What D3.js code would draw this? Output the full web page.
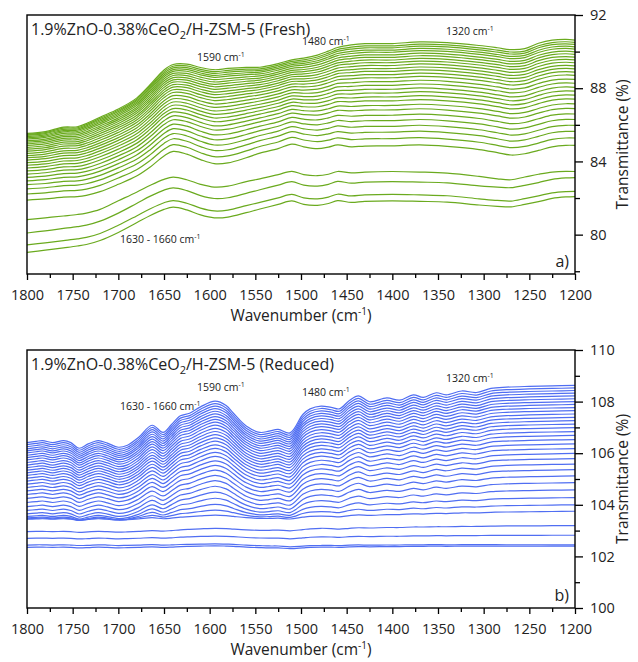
<!DOCTYPE html>
<html>
<head>
<meta charset="utf-8">
<script src="https://cdn.jsdelivr.net/npm/d3@7"></script>
<style>
  body { margin: 0; background: #fff; }
  svg { font-family: "Open Sans", "Noto Sans", sans-serif; }
</style>
</head>
<body>
<script>
// ---- data ----
const xMajorTicks = [1800, 1750, 1700, 1650, 1600, 1550, 1500, 1450, 1400, 1350, 1300, 1250, 1200];
const freshYTicks = [80, 84, 88, 92];
const reducedYTicks = [100, 102, 104, 106, 108, 110];

// panel a) Fresh : reference spectra (top / bottom of each stack)
const freshWavenumber = [1800, 1780, 1760, 1745, 1735, 1720, 1700, 1680, 1665, 1650, 1640, 1625, 1610, 1595, 1580, 1560, 1545, 1525, 1510, 1497, 1482, 1470, 1460, 1445, 1430, 1400, 1370, 1340, 1305, 1285, 1270, 1255, 1240, 1225, 1210, 1200];
const freshUpperTop = [85.45, 85.55, 85.80, 85.82, 86.00, 86.35, 86.80, 87.40, 88.15, 88.95, 89.25, 89.28, 89.10, 88.98, 89.05, 89.10, 89.10, 89.30, 89.50, 89.60, 89.78, 90.00, 90.20, 90.35, 90.42, 90.42, 90.52, 90.48, 90.32, 90.20, 90.10, 90.15, 90.45, 90.62, 90.66, 90.62];
const freshUpperBottom = [81.89, 81.95, 82.05, 82.08, 82.15, 82.35, 82.75, 83.20, 83.70, 84.30, 84.55, 84.40, 84.10, 83.88, 83.92, 84.20, 84.45, 84.70, 84.95, 84.80, 84.70, 84.78, 84.90, 84.80, 84.84, 84.85, 84.90, 84.82, 84.65, 84.48, 84.35, 84.42, 84.60, 84.80, 84.88, 84.88];
const freshLowerTop = [80.82, 80.92, 81.02, 81.10, 81.18, 81.38, 81.85, 82.32, 82.70, 83.02, 83.14, 83.00, 82.75, 82.60, 82.65, 82.90, 83.05, 83.28, 83.46, 83.28, 83.22, 83.30, 83.45, 83.37, 83.42, 83.45, 83.42, 83.36, 83.18, 83.05, 83.00, 83.15, 83.30, 83.42, 83.46, 83.45];
const freshLowerBottom = [79.03, 79.15, 79.28, 79.38, 79.46, 79.68, 80.12, 80.65, 81.05, 81.38, 81.50, 81.35, 81.08, 80.92, 80.96, 81.20, 81.40, 81.65, 81.84, 81.65, 81.60, 81.70, 81.86, 81.76, 81.82, 81.85, 81.82, 81.78, 81.62, 81.55, 81.52, 81.65, 81.80, 81.98, 82.06, 82.08];
// every spectrum: value at 1800 and at 1200 cm-1
const freshUpperAt1800 = [85.53, 85.48, 85.42, 85.36, 85.29, 85.22, 85.13, 85.05, 84.96, 84.87, 84.77, 84.67, 84.56, 84.44, 84.32, 84.20, 84.07, 83.93, 83.79, 83.64, 83.48, 83.31, 83.13, 82.94, 82.73, 82.50, 82.22, 81.89];
const freshUpperAt1200 = [90.63, 90.50, 90.39, 90.26, 90.14, 89.99, 89.85, 89.70, 89.55, 89.39, 89.22, 89.06, 88.88, 88.70, 88.48, 88.27, 88.05, 87.84, 87.62, 87.40, 87.14, 86.89, 86.59, 86.29, 85.97, 85.64, 85.28, 84.88];
const freshLowerAt1800 = [80.82, 80.09, 79.44, 79.03];
const freshLowerAt1200 = [83.45, 83.12, 82.36, 82.08];

// panel b) Reduced
const reducedWavenumber = [1800, 1790, 1783, 1772, 1760, 1752, 1743, 1733, 1722, 1712, 1700, 1690, 1678, 1663, 1651, 1642, 1632, 1622, 1610, 1594, 1582, 1574, 1560, 1545, 1535, 1525, 1512, 1498, 1490, 1478, 1467, 1458, 1447, 1437, 1425, 1406, 1392, 1377, 1366, 1352, 1341, 1324, 1308, 1292, 1275, 1250, 1225, 1200];
const reducedUpperTop = [106.40, 106.45, 106.48, 106.40, 106.48, 106.40, 106.18, 106.35, 106.48, 106.38, 106.22, 106.30, 106.60, 107.08, 106.80, 107.10, 107.45, 107.55, 107.80, 108.02, 107.85, 107.55, 107.05, 106.80, 106.85, 106.92, 106.78, 107.50, 107.72, 107.83, 107.78, 107.72, 108.05, 108.23, 108.00, 108.15, 108.06, 108.27, 108.17, 108.35, 108.27, 108.42, 108.36, 108.52, 108.57, 108.60, 108.62, 108.64];
const reducedUpperBottom = [103.44, 103.45, 103.46, 103.44, 103.46, 103.44, 103.40, 103.43, 103.46, 103.44, 103.41, 103.42, 103.45, 103.50, 103.46, 103.48, 103.52, 103.54, 103.57, 103.60, 103.58, 103.55, 103.50, 103.47, 103.47, 103.48, 103.45, 103.52, 103.55, 103.56, 103.55, 103.53, 103.58, 103.61, 103.59, 103.62, 103.62, 103.65, 103.64, 103.67, 103.66, 103.69, 103.69, 103.71, 103.72, 103.73, 103.74, 103.75];
const reducedLowerTop = [102.96, 102.97, 102.97, 102.96, 102.97, 102.96, 102.93, 102.95, 102.97, 102.96, 102.94, 102.95, 102.97, 103.00, 102.98, 103.00, 103.03, 103.05, 103.07, 103.09, 103.08, 103.06, 103.03, 103.01, 103.01, 103.02, 102.99, 103.04, 103.07, 103.09, 103.08, 103.06, 103.09, 103.11, 103.10, 103.12, 103.12, 103.14, 103.14, 103.15, 103.15, 103.16, 103.16, 103.17, 103.18, 103.18, 103.19, 103.19];
const reducedLowerBottom = [102.35, 102.36, 102.36, 102.35, 102.36, 102.35, 102.33, 102.34, 102.36, 102.35, 102.33, 102.34, 102.35, 102.37, 102.35, 102.36, 102.38, 102.39, 102.40, 102.41, 102.40, 102.39, 102.36, 102.34, 102.33, 102.33, 102.30, 102.33, 102.35, 102.36, 102.36, 102.35, 102.37, 102.38, 102.37, 102.38, 102.38, 102.39, 102.39, 102.40, 102.39, 102.40, 102.40, 102.40, 102.40, 102.40, 102.40, 102.40];
const reducedUpperAt1800 = [106.41, 106.33, 106.25, 106.17, 106.09, 106.01, 105.92, 105.83, 105.74, 105.64, 105.54, 105.44, 105.34, 105.24, 105.14, 105.03, 104.92, 104.80, 104.67, 104.54, 104.40, 104.25, 104.09, 103.93, 103.78, 103.65, 103.55, 103.49, 103.46, 103.44];
const reducedUpperAt1200 = [108.63, 108.53, 108.43, 108.33, 108.22, 108.11, 108.00, 107.89, 107.77, 107.65, 107.52, 107.39, 107.26, 107.13, 106.99, 106.84, 106.69, 106.53, 106.36, 106.18, 105.99, 105.79, 105.58, 105.36, 105.12, 104.86, 104.58, 104.28, 104.00, 103.75];
const reducedLowerAt1800 = [102.96, 102.70, 102.44, 102.35];
const reducedLowerAt1200 = [103.19, 102.82, 102.45, 102.40];

const width = 638;
const height = 662;

const svg = d3.select('body').append('svg')
  .attr('width', width)
  .attr('height', height);

// a spectrum of the stack: its own end values, shape taken between the two reference spectra
function spectrum(refTop, refBot, at1800, at1200) {
  const n = refTop.length;
  const riseTop = refTop[n - 1] - refTop[0];
  const riseBot = refBot[n - 1] - refBot[0];
  const t = riseTop === riseBot ? 0 : (riseTop - (at1200 - at1800)) / (riseTop - riseBot);
  return refTop.map((v, k) => at1800 + (1 - t) * (v - refTop[0]) + t * (refBot[k] - refBot[0]));
}

function drawPanel(opt) {
  const x = d3.scaleLinear().domain([1800, 1200]).range([27, 575]);
  const y = d3.scaleLinear().domain(opt.yDomain).range([opt.bottom, opt.top]);
  const g = svg.append('g');

  const clipId = 'clip' + opt.name;
  g.append('clipPath').attr('id', clipId)
    .append('rect')
    .attr('x', 27).attr('y', opt.top)
    .attr('width', 548).attr('height', opt.bottom - opt.top);

  const spectra = [];
  opt.upperAt1800.forEach((v, i) => spectra.push(spectrum(opt.upperTop, opt.upperBottom, v, opt.upperAt1200[i])));
  opt.lowerAt1800.forEach((v, i) => spectra.push(spectrum(opt.lowerTop, opt.lowerBottom, v, opt.lowerAt1200[i])));

  const line = d3.line()
    .x((d, k) => x(opt.wavenumber[k]))
    .y(d => y(d))
    .curve(d3.curveCatmullRom.alpha(0.5));

  g.append('g')
    .attr('clip-path', `url(#${clipId})`)
    .selectAll('path')
    .data(spectra)
    .enter()
    .append('path')
    .attr('d', line)
    .attr('fill', 'none')
    .attr('stroke', opt.color)
    .attr('stroke-width', 1.2);

  // axes
  const xMinor = d3.axisBottom(x).tickValues(d3.range(1775, 1200, -50)).tickSize(4).tickFormat('');
  const xMajor = d3.axisBottom(x).tickValues(xMajorTicks).tickSize(6).tickPadding(10).tickFormat(d3.format('d'));
  const yMinor = d3.axisRight(y).tickValues(opt.yMinor).tickSize(5).tickFormat('');
  const yMajor = d3.axisRight(y).tickValues(opt.yTicks).tickSize(8).tickPadding(7).tickFormat(d3.format('d'));

  [xMinor, xMajor].forEach(a => g.append('g').attr('transform', `translate(0,${opt.bottom})`).call(a));
  [yMinor, yMajor].forEach(a => g.append('g').attr('transform', 'translate(575,0)').call(a));
  g.selectAll('.domain').remove();
  g.selectAll('.tick line').attr('stroke', '#000').attr('stroke-width', 1.3);
  g.selectAll('.tick text').attr('font-size', 14.5).attr('fill', '#222')
    .style('font-family', '"Open Sans", sans-serif');

  // frame
  g.append('rect')
    .attr('x', 27).attr('y', opt.top)
    .attr('width', 548).attr('height', opt.bottom - opt.top)
    .attr('fill', 'none').attr('stroke', '#000').attr('stroke-width', 1.4);

  // titles
  const title = g.append('text').attr('x', 31).attr('y', opt.top + 20)
    .attr('font-size', 16).attr('fill', '#222');
  title.append('tspan').text('1.9%ZnO-0.38%CeO');
  title.append('tspan').text('2').attr('font-size', 11).attr('dy', 4);
  title.append('tspan').text(`/H-ZSM-5 (${opt.name})`).attr('dy', -4);

  g.append('text').attr('x', 301).attr('y', opt.bottom + 47)
    .attr('text-anchor', 'middle').attr('font-size', 15.5).attr('fill', '#222')
    .call(t => {
      t.append('tspan').text('Wavenumber (cm');
      t.append('tspan').text('-1').attr('font-size', 10).attr('dy', -6);
      t.append('tspan').text(')').attr('dy', 6);
    });

  g.append('text')
    .attr('transform', `translate(628,${(opt.top + opt.bottom) / 2}) rotate(-90)`)
    .attr('text-anchor', 'middle').attr('font-size', 15.5).attr('fill', '#222')
    .text('Transmittance (%)');

  g.append('text').attr('x', 569).attr('y', opt.bottom - 7)
    .attr('text-anchor', 'end').attr('font-size', 16).attr('fill', '#222')
    .text(opt.letter);

  // band labels
  opt.bands.forEach(b => {
    const t = g.append('text').attr('x', b.x).attr('y', b.y)
      .attr('font-size', 10.5).attr('fill', '#222');
    t.append('tspan').text(b.text + ' cm');
    t.append('tspan').text('-1').attr('font-size', 7).attr('dy', -4);
  });
}

drawPanel({
  name: 'Fresh', letter: 'a)', color: '#6aaa1e',
  top: 15, bottom: 274, yDomain: [77.85, 92],
  yTicks: freshYTicks, yMinor: [78, 82, 86, 90],
  wavenumber: freshWavenumber,
  upperTop: freshUpperTop, upperBottom: freshUpperBottom,
  lowerTop: freshLowerTop, lowerBottom: freshLowerBottom,
  upperAt1800: freshUpperAt1800, upperAt1200: freshUpperAt1200,
  lowerAt1800: freshLowerAt1800, lowerAt1200: freshLowerAt1200,
  bands: [
    { text: '1590', x: 197, y: 61 },
    { text: '1480', x: 302, y: 45 },
    { text: '1320', x: 446, y: 35 },
    { text: '1630 - 1660', x: 120, y: 243 }
  ]
});

drawPanel({
  name: 'Reduced', letter: 'b)', color: '#506ef2',
  top: 350, bottom: 608, yDomain: [100, 110],
  yTicks: reducedYTicks, yMinor: [101, 103, 105, 107, 109],
  wavenumber: reducedWavenumber,
  upperTop: reducedUpperTop, upperBottom: reducedUpperBottom,
  lowerTop: reducedLowerTop, lowerBottom: reducedLowerBottom,
  upperAt1800: reducedUpperAt1800, upperAt1200: reducedUpperAt1200,
  lowerAt1800: reducedLowerAt1800, lowerAt1200: reducedLowerAt1200,
  bands: [
    { text: '1590', x: 197, y: 391 },
    { text: '1630 - 1660', x: 120, y: 410 },
    { text: '1480', x: 302, y: 396 },
    { text: '1320', x: 446, y: 382 }
  ]
});
</script>
</body>
</html>
